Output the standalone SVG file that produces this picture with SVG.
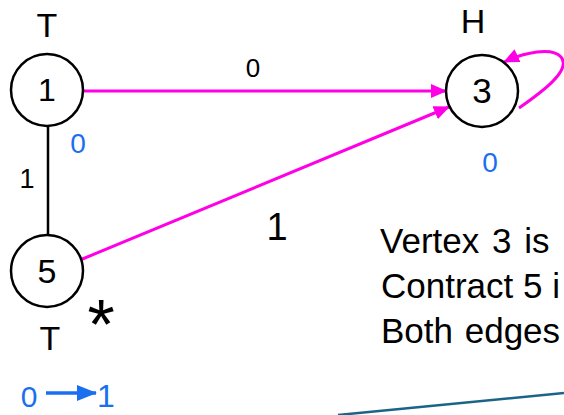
<svg xmlns="http://www.w3.org/2000/svg" width="564" height="415" viewBox="0 0 564 415">
<style>
.node{fill:#fff;stroke:#000;stroke-width:2.5}
.hw{font-family:"Liberation Sans",Arial,sans-serif;fill:#000;text-anchor:middle}
.blue{fill:#1a6ff0}
.edge{fill:none;stroke:#ff00e6;stroke-width:3}
.body{font-family:"Liberation Sans",Arial,sans-serif;font-size:35px;fill:#000}
</style>
<defs>
<marker id="ah" markerWidth="16" markerHeight="14" refX="15" refY="7" orient="auto" markerUnits="userSpaceOnUse">
<polygon points="0,0 16,7 0,14" fill="#ff00e6"/>
</marker>
<marker id="bh" markerWidth="20" markerHeight="16" refX="19" refY="8" orient="auto" markerUnits="userSpaceOnUse">
<polygon points="0,0 20,8 0,16" fill="#1a6ff0"/>
</marker>
</defs>
<g id="connectors">
<line x1="48" y1="126" x2="48" y2="235" stroke="#000" stroke-width="2.5"/>
<line class="edge" x1="84" y1="91" x2="446" y2="91" marker-end="url(#ah)"/>
<line class="edge" x1="80" y1="260" x2="449" y2="107" marker-end="url(#ah)"/>
<path class="edge" d="M519,108 C542,92 572,70 561,57 C552,47 525,52 504,62" marker-end="url(#ah)"/>
<text class="hw" x="253" y="77" font-size="26">0</text>
<text class="hw" x="277" y="240" font-size="38">1</text>
<text class="hw" x="27" y="188" font-size="27">1</text>
</g>
<g id="node1">
<circle class="node" cx="47" cy="90" r="36"/>
<text class="hw" x="47" y="101" font-size="32">1</text>
<text class="hw" x="47" y="37" font-size="34">T</text>
<text class="hw blue" x="78" y="153" font-size="28">0</text>
</g>
<g id="node3">
<circle class="node" cx="482" cy="91" r="36"/>
<text class="hw" x="482" y="103" font-size="35">3</text>
<text class="hw" x="473" y="33" font-size="34">H</text>
<text class="hw blue" x="490" y="172" font-size="28">0</text>
</g>
<g id="node5">
<circle class="node" cx="47" cy="271" r="36"/>
<text class="hw" x="47" y="283" font-size="34">5</text>
<text class="hw" x="50" y="350" font-size="34">T</text>
<text class="hw" x="101" y="349" font-size="70">*</text>
<text class="hw blue" x="29" y="407" font-size="30">0</text>
<line x1="46" y1="393" x2="96" y2="393" stroke="#1a6ff0" stroke-width="3.5" marker-end="url(#bh)"/>
<text class="hw blue" x="106" y="407" font-size="32">1</text>
</g>
<g id="caption">
<text class="body" x="380" y="253" word-spacing="3">Vertex 3 is</text>
<text class="body" x="381" y="298">Contract 5 i</text>
<text class="body" x="381" y="343" word-spacing="2">Both edges</text>
<line x1="338" y1="415" x2="564" y2="393" stroke="#1b6488" stroke-width="2.5"/>
</g>
</svg>
